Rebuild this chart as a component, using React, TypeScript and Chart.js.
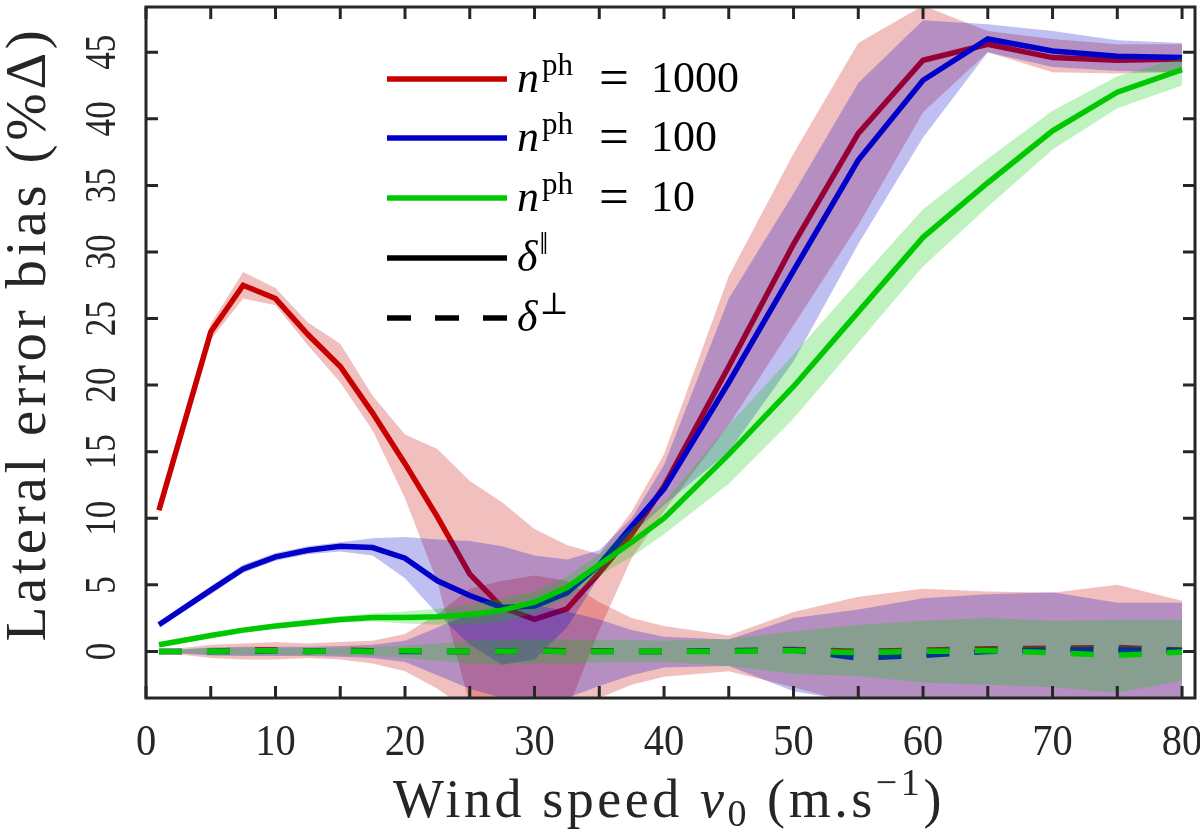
import React, { useEffect, useRef } from "react";
import { Chart, registerables } from "chart.js";

Chart.register(...registerables);

// wind speed samples (m/s)
const speeds = [1, 5, 7.5, 10, 12.5, 15, 17.5, 20, 22.5, 25, 27.5, 30, 32.5, 35, 37.5, 40, 45, 50, 55, 60, 65, 70, 75, 80];

// delta parallel, n_ph = 1000 / 100 / 10 (mean, upper, lower)
const redPar = [10.6, 24.0, 27.5, 26.5, 23.8, 21.4, 17.9, 14.1, 10.1, 5.8, 3.3, 2.4, 3.2, 5.9, 8.8, 12.4, 21.4, 30.6, 38.9, 44.4, 45.6, 44.6, 44.4, 44.5];
const redParHi = [10.8, 24.6, 28.5, 27.3, 24.7, 23.1, 19.2, 16.3, 15.2, 12.8, 11.2, 9.2, 8.0, 7.3, 10.5, 14.8, 28.2, 37.4, 45.7, 48.5, 46.6, 46.0, 45.6, 45.6];
const redParLo = [10.4, 23.4, 26.5, 26.0, 23.0, 20.2, 16.6, 11.5, 5.2, -4.0, -6.0, -6.0, -4.5, 1.6, 7.0, 10.5, 17.0, 24.5, 32.0, 40.5, 45.0, 43.5, 43.4, 43.5];

const bluePar = [2.0, 4.6, 6.2, 7.1, 7.6, 7.9, 7.8, 7.0, 5.3, 4.2, 3.3, 3.4, 4.4, 6.5, 9.4, 12.2, 20.2, 28.6, 36.9, 42.9, 46.0, 45.1, 44.7, 44.6];
const blueParHi = [2.2, 4.9, 6.5, 7.4, 7.9, 8.2, 8.5, 8.6, 8.4, 8.3, 7.9, 7.2, 6.9, 7.6, 10.0, 14.0, 26.5, 34.4, 42.7, 47.4, 47.1, 46.6, 45.9, 45.7];
const blueParLo = [1.8, 4.3, 5.9, 6.8, 7.3, 7.5, 7.2, 5.5, 2.8, 0.5, -1.0, -0.6, 1.8, 5.6, 8.8, 11.0, 15.0, 21.8, 30.6, 38.6, 45.0, 43.9, 43.6, 43.5];

const greenPar = [0.5, 1.2, 1.6, 1.9, 2.15, 2.4, 2.55, 2.55, 2.6, 2.75, 3.1, 3.7, 4.8, 6.5, 8.2, 10.0, 14.8, 19.9, 25.5, 31.1, 35.2, 39.1, 42.0, 43.7];
const greenParHi = [0.6, 1.4, 1.8, 2.1, 2.4, 2.65, 2.85, 3.0, 3.2, 3.5, 4.0, 4.5, 5.6, 7.3, 9.3, 11.2, 17.0, 22.3, 27.8, 33.2, 37.0, 40.6, 43.2, 44.6];
const greenParLo = [0.4, 1.0, 1.4, 1.7, 1.9, 2.15, 2.25, 2.1, 2.0, 2.0, 2.2, 2.9, 4.0, 5.7, 7.1, 8.8, 12.6, 17.5, 23.2, 28.9, 33.4, 37.7, 40.8, 42.5];

// delta perpendicular
const redPerp = [0, 0, 0.1, 0.1, 0, 0.1, 0.05, 0.05, 0, 0, 0, 0.1, 0.05, 0.05, 0, 0, 0.05, 0.15, 0, 0.1, 0.2, 0.25, 0.3, 0.1];
const redPerpHi = [0.05, 0.5, 0.6, 0.7, 0.6, 0.7, 0.8, 1.3, 2.8, 4.7, 5.3, 5.7, 5.3, 3.7, 2.5, 1.9, 1.2, 2.95, 4.1, 4.7, 4.5, 4.4, 5.0, 3.8];
const redPerpLo = [-0.05, -0.5, -0.6, -0.6, -0.5, -0.6, -0.9, -1.5, -2.8, -4.5, -5.3, -5.5, -5.0, -3.5, -2.5, -1.9, -1.5, -2.7, -4.0, -4.5, -4.5, -4.4, -4.6, -4.0];

const bluePerp = [0, 0, 0, 0.05, 0, 0.05, 0, 0, 0, 0, 0, 0.05, 0, 0, 0, 0, 0.05, 0.1, -0.5, -0.3, 0, 0.1, 0.1, 0.05];
const bluePerpHi = [0.05, 0.3, 0.35, 0.35, 0.35, 0.4, 0.5, 0.8, 1.8, 2.8, 3.2, 3.5, 3.0, 2.4, 1.6, 1.1, 0.9, 2.5, 3.15, 4.0, 4.3, 4.45, 3.65, 3.65];
const bluePerpLo = [-0.05, -0.3, -0.35, -0.35, -0.35, -0.4, -0.5, -0.8, -1.8, -2.8, -3.5, -4.0, -3.5, -2.6, -1.8, -1.2, -1.1, -3.0, -3.8, -4.2, -4.3, -4.4, -4.0, -3.6];

const greenPerp = [0, 0, 0.05, 0.05, 0, 0.05, 0, 0.05, 0, 0, 0, 0.05, 0, 0, 0, 0, 0, 0.05, -0.1, 0, 0.05, -0.1, -0.3, -0.05];
const greenPerpHi = [0.02, 0.25, 0.25, 0.25, 0.28, 0.3, 0.35, 0.45, 0.6, 0.8, 0.9, 0.9, 0.9, 0.9, 0.85, 0.8, 0.95, 1.5, 2.0, 2.3, 2.5, 2.3, 2.35, 2.4];
const greenPerpLo = [-0.02, -0.25, -0.25, -0.25, -0.28, -0.3, -0.35, -0.5, -0.7, -0.9, -1.0, -0.9, -0.9, -0.85, -0.8, -0.8, -1.1, -1.7, -1.85, -2.35, -2.5, -2.7, -3.1, -2.2];

const xTicks = [0, 5, 10, 15, 20, 25, 30, 35, 40, 45, 50, 55, 60, 65, 70, 75, 80];
const xTickLabels = ["0", "", "10", "", "20", "", "30", "", "40", "", "50", "", "60", "", "70", "", "80"];
const yTicks = [0, 5, 10, 15, 20, 25, 30, 35, 40, 45];
const yTickLabels = ["0", "5", "10", "15", "20", "25", "30", "35", "40", "45"];

const RED = "rgb(200,0,0)";
const BLUE = "rgb(0,0,200)";
const GREEN = "rgb(0,200,0)";
const RED_FILL = "rgba(204,0,0,0.25)";
const BLUE_FILL = "rgba(0,0,204,0.25)";
const GREEN_FILL = "rgba(0,204,0,0.25)";
const INK = "#262626";
const SERIF = '"Liberation Serif", "DejaVu Serif", serif';
const LINE_W = 5.5;
const DASH = [23, 25];

const pts = (vals: number[]) => speeds.map((s, i) => ({ x: s, y: vals[i] }));

const band = (hi: number[], lo: number[], fillColor: string) => [
  { data: pts(hi), fill: "+1", backgroundColor: fillColor, borderColor: "rgba(0,0,0,0)", borderWidth: 0, pointRadius: 0 },
  { data: pts(lo), fill: false, borderColor: "rgba(0,0,0,0)", borderWidth: 0, pointRadius: 0 },
];

const curve = (vals: number[], color: string, dashed: boolean) => ({
  data: pts(vals),
  fill: false,
  borderColor: color,
  borderWidth: LINE_W,
  borderDash: dashed ? DASH : [],
  pointRadius: 0,
});

type Run = { t: string; italic?: boolean; scale?: number; dy?: number; gap?: number; at?: number };

type TextOpts = { center?: boolean; sx?: number; width?: number };

// text made of pieces (sub/superscripts). "width" spreads the letters to a given length,
// since the original uses a wider TeX font; "sx" squeezes sideways.
function drawRuns(ctx: CanvasRenderingContext2D, runs: Run[], x: number, y: number, size: number, opts: TextOpts = {}) {
  const sx = opts.sx || 1;
  const fontOf = (r: Run) => `${r.italic ? "italic " : ""}${Math.round(size * (r.scale || 1))}px ${SERIF}`;
  const c = ctx as any;
  const measure = () => {
    let w = 0;
    runs.forEach((r) => {
      ctx.font = fontOf(r);
      w += (r.gap || 0) + ctx.measureText(r.t).width;
    });
    return w;
  };
  ctx.save();
  c.letterSpacing = "0px";
  let total = measure();
  let stretch = 1;
  if (opts.width) {
    const chars = runs.reduce((n, r) => n + r.t.length, 0);
    const spacing = (opts.width - total) / chars;
    c.letterSpacing = `${spacing.toFixed(2)}px`;
    const spaced = measure();
    if (Math.abs(spaced - total) < 1) stretch = opts.width / total; // no letterSpacing support
    total = spaced * (Math.abs(spaced - total) < 1 ? stretch : 1);
  }
  const k = sx * stretch;
  ctx.translate(opts.center ? x - (opts.width ? total : total * sx) / 2 : x, y);
  ctx.scale(k, 1);
  ctx.textAlign = "left";
  ctx.textBaseline = "alphabetic";
  let cx = 0;
  runs.forEach((r) => {
    ctx.font = fontOf(r);
    cx = r.at !== undefined ? r.at : cx + (r.gap || 0);
    ctx.fillText(r.t, cx, r.dy || 0);
    cx += ctx.measureText(r.t).width;
  });
  ctx.restore();
}

const nRow = (value: string) => [
  { t: "n", italic: true },
  { t: "ph", scale: 0.7, dy: -17, at: 25 },
  { t: "=", at: 82, scale: 1.2, dy: 3 },
  { t: value, at: 134 },
];

const legendRows = [
  { color: RED, dashed: false, runs: nRow("1000") },
  { color: BLUE, dashed: false, runs: nRow("100") },
  { color: GREEN, dashed: false, runs: nRow("10") },
  { color: "#000", dashed: false, runs: [{ t: "\u03b4", italic: true }, { t: "\u2016", scale: 0.7, dy: -17, gap: 2 }] },
  { color: "#000", dashed: true, runs: [{ t: "\u03b4", italic: true }, { t: "\u22a5", scale: 0.7, dy: -17, gap: 2 }] },
];

const framePlugin = {
  id: "matlabFrame",
  afterDraw(chart: any) {
    const { ctx, chartArea: a, scales } = chart;
    const xs = scales.x;
    const ys = scales.y;
    ctx.save();
    ctx.strokeStyle = INK;
    ctx.fillStyle = INK;
    ctx.lineWidth = 3;
    ctx.setLineDash([]);
    ctx.strokeRect(a.left, a.top, a.right - a.left, a.bottom - a.top);

    // inward ticks on all four sides
    const tick = 12;
    ctx.beginPath();
    xTicks.forEach((v) => {
      const px = xs.getPixelForValue(v);
      ctx.moveTo(px, a.bottom);
      ctx.lineTo(px, a.bottom - tick);
      ctx.moveTo(px, a.top);
      ctx.lineTo(px, a.top + tick);
    });
    yTicks.forEach((v) => {
      const py = ys.getPixelForValue(v);
      ctx.moveTo(a.left, py);
      ctx.lineTo(a.left + tick, py);
      ctx.moveTo(a.right, py);
      ctx.lineTo(a.right - tick, py);
    });
    ctx.stroke();

    // x tick labels
    xTicks.forEach((v, i) => {
      if (xTickLabels[i]) drawRuns(ctx, [{ t: xTickLabels[i] }], xs.getPixelForValue(v), 755, 44, { center: true, sx: 0.92 });
    });

    // y tick labels, rotated like the original
    yTicks.forEach((v, i) => {
      ctx.save();
      ctx.translate(115, ys.getPixelForValue(v));
      ctx.rotate(-Math.PI / 2);
      drawRuns(ctx, [{ t: yTickLabels[i] }], 0, 0, 44, { center: true, sx: 0.8 });
      ctx.restore();
    });

    // axis titles
    drawRuns(
      ctx,
      [
        { t: "Wind speed " },
        { t: "v", italic: true },
        { t: "0", scale: 0.7, dy: 9 },
        { t: " (m.s" },
        { t: "\u22121", scale: 0.7, dy: -22 },
        { t: ")" },
      ],
      669,
      817,
      54,
      { center: true, width: 552 }
    );
    ctx.save();
    ctx.translate(45, 334);
    ctx.rotate(-Math.PI / 2);
    drawRuns(ctx, [{ t: "Lateral error bias (%\u0394)" }], 0, 0, 57, { center: true, width: 615 });
    ctx.restore();

    // legend
    const rowY = [79, 138, 198, 258, 318];
    legendRows.forEach((row, i) => {
      const cy = rowY[i];
      ctx.strokeStyle = row.color;
      ctx.lineWidth = LINE_W;
      ctx.setLineDash(row.dashed ? [24, 24] : []);
      ctx.beginPath();
      ctx.moveTo(387, cy);
      ctx.lineTo(507, cy);
      ctx.stroke();
      ctx.setLineDash([]);
      ctx.fillStyle = "#000";
      drawRuns(ctx, row.runs, 517, cy + 13, 44);
    });
    ctx.restore();
  },
};

const App = () => {
  const canvasRef = useRef<HTMLCanvasElement>(null);
  const chartRef = useRef<Chart | null>(null);

  useEffect(() => {
    if (!canvasRef.current) return;
    // drawing order: first entry is painted first
    const layers: any[] = [
      ...band(redParHi, redParLo, RED_FILL),
      ...band(redPerpHi, redPerpLo, RED_FILL),
      curve(redPar, RED, false),
      curve(redPerp, RED, true),
      ...band(blueParHi, blueParLo, BLUE_FILL),
      ...band(bluePerpHi, bluePerpLo, BLUE_FILL),
      curve(bluePar, BLUE, false),
      curve(bluePerp, BLUE, true),
      ...band(greenParHi, greenParLo, GREEN_FILL),
      ...band(greenPerpHi, greenPerpLo, GREEN_FILL),
      curve(greenPar, GREEN, false),
      curve(greenPerp, GREEN, true),
    ];
    const datasets = layers.map((d, i) => ({ ...d, order: layers.length - i }));

    chartRef.current = new Chart(canvasRef.current, {
      type: "line",
      data: { datasets },
      options: {
        responsive: false,
        animation: false,
        events: [],
        layout: { padding: { left: 146, top: 7, right: 5, bottom: 139 } },
        elements: { line: { tension: 0, borderJoinStyle: "miter" } },
        scales: {
          x: { type: "linear", min: 0, max: 81, display: false },
          y: { type: "linear", min: -3.5, max: 48.4, display: false },
        },
        plugins: {
          legend: { display: false },
          tooltip: { enabled: false },
        },
      },
      plugins: [framePlugin],
    });

    return () => {
      if (chartRef.current) {
        chartRef.current.destroy();
        chartRef.current = null;
      }
    };
  }, []);

  return (
    <div style={{ position: "absolute", left: 0, top: 0, width: 1200, height: 837, background: "#fff" }}>
      <canvas ref={canvasRef} width={1200} height={837} style={{ display: "block" }} />
    </div>
  );
};

export default App;
